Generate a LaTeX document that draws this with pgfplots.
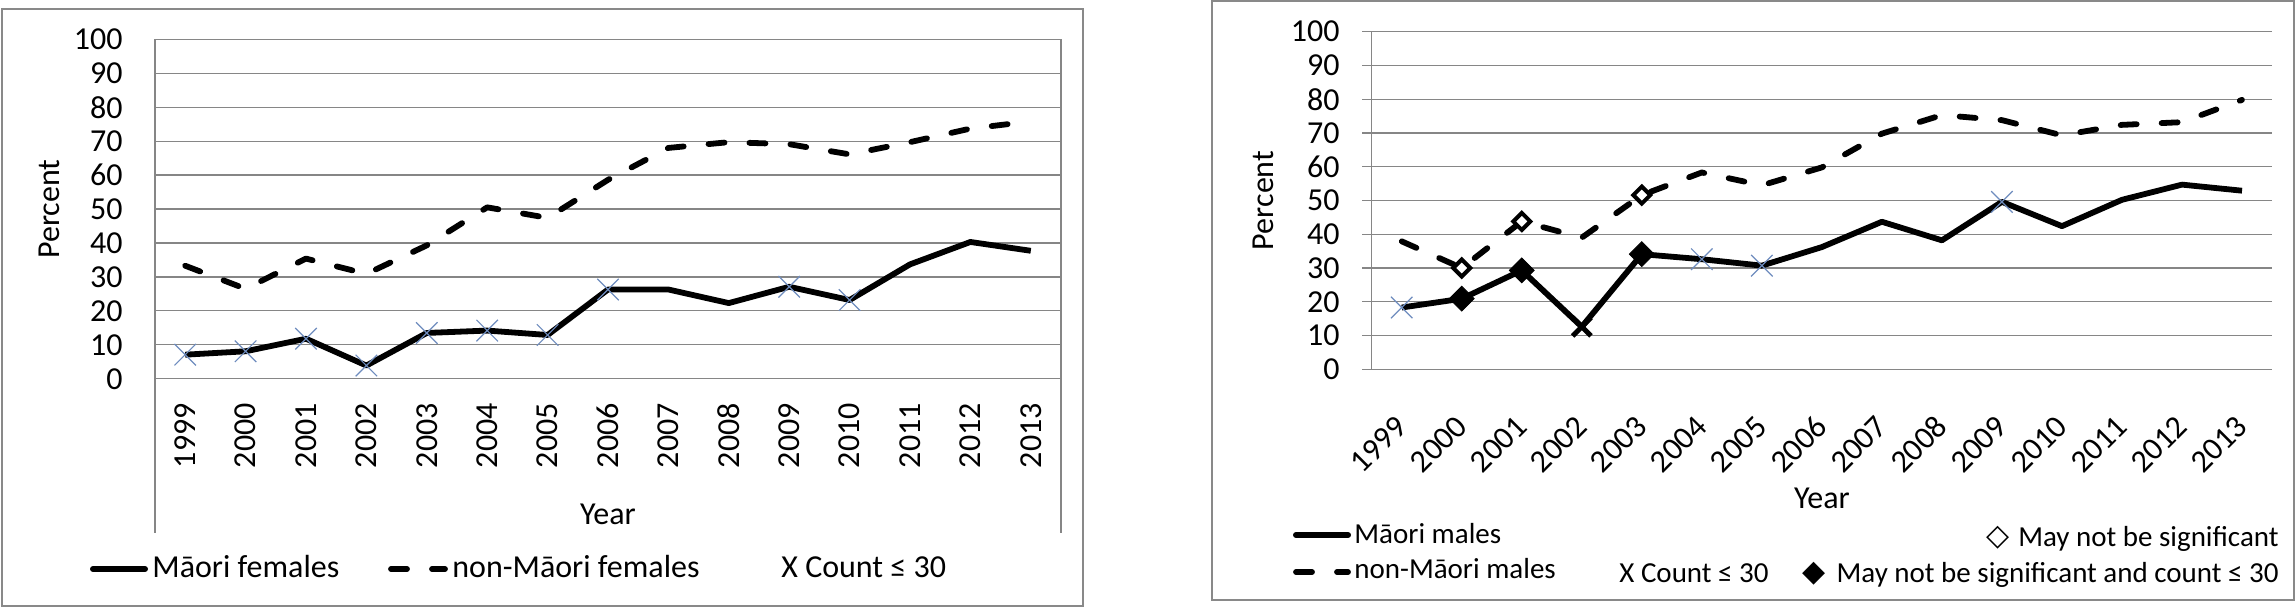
\documentclass[border=0pt]{standalone}
\usepackage{pgfplots}
\usepackage{pgfplotstable}
\pgfplotsset{compat=1.18}
\usepackage{fontspec}
\setmainfont{Carlito}
\newfontfamily\dejavu{DejaVu Sans}
\newcommand\chartfont{\fontsize{16}{19}\selectfont}
\newcommand\legfont{\fontsize{14.5}{17}\selectfont}
\definecolor{gridgray}{RGB}{134,134,134}
\definecolor{framegray}{RGB}{137,137,137}
\definecolor{xblue}{RGB}{110,140,190}

% Left chart: females
\pgfplotstableread{
idx mf nmf
0 7.1 33.3
1 8.1 26.5
2 11.8 35.4
3 3.9 30.9
4 13.5 39.3
5 14.2 50.5
6 12.9 47.4
7 26.3 58.6
8 26.3 68.0
9 22.3 69.7
10 27.1 69.1
11 23.2 66.1
12 33.7 69.7
13 40.3 73.7
14 37.7 75.8
}\femaletable
\pgfplotstableread{
idx v
0 7.1
1 8.1
2 11.8
3 3.9
4 13.5
5 14.2
6 12.9
7 26.3
10 27.1
11 23.2
}\femalecount

% Right chart: males
\pgfplotstableread{
idx mm nmm
0 18.3 37.9
1 20.9 30.0
2 29.3 43.8
3 12.6 39.0
4 34.1 51.6
5 32.6 58.3
6 30.7 54.5
7 36.2 59.8
8 43.7 69.8
9 38.2 75.3
10 49.6 73.8
11 42.4 69.3
12 50.2 72.4
13 54.7 73.2
14 52.9 79.8
}\maletable
\pgfplotstableread{
idx v
0 18.3
5 32.6
6 30.7
10 49.6
}\malecount
\pgfplotstableread{
idx v
3 12.6
}\malebigx
\pgfplotstableread{
idx v
1 20.9
2 29.3
4 34.1
}\malediamond
\pgfplotstableread{
idx v
1 30.0
2 43.8
4 51.6
}\nonmalediamond

\tikzset{
  solidline/.style={black, line width=2.9pt, line join=round},
  dashline/.style={black, line width=2.9pt, line join=round, line cap=round, dash pattern=on 8pt off 12.5pt},
}
\pgfplotsset{
  mystyle/.style={
    scale only axis, anchor=south west,
    xmin=-0.5, xmax=14.5, ymin=0, ymax=100,
    xtick={0,...,14},
    xticklabels={1999,2000,2001,2002,2003,2004,2005,2006,2007,2008,2009,2010,2011,2012,2013},
    ytick={0,10,...,100},
    ymajorgrids, grid style={gridgray, line width=0.6pt},
    tick label style={font=\chartfont, inner sep=0pt},
    /pgf/number format/assume math mode=true,
    clip=false,
  },
}

\begin{document}
\begin{tikzpicture}[font=\chartfont]
\useasboundingbox (0,0) rectangle (1147.5pt,304pt);

% ---------- left chart ----------
\begin{axis}[mystyle,
  at={(77.5pt,114.6pt)}, width=453pt, height=169.75pt,
  axis line style={draw=none}, tick style={draw=none}, major tick length=0pt,
  xticklabel style={rotate=90, anchor=east},
  yticklabel style={anchor=east},
  xticklabel shift=12pt, yticklabel shift=16pt,
  xlabel={Year}, ylabel={Percent},
  every axis x label/.style={at={(axis description cs:0.5,-0.3982)}, anchor=center, font=\chartfont},
  every axis y label/.style={at={(axis description cs:-0.1170,0.5)}, rotate=90, anchor=center, font=\chartfont},
]
\addplot[solidline, mark=none] table[x=idx,y=mf]{\femaletable};
\addplot[dashline, mark=none] table[x=idx,y=nmf]{\femaletable};
\addplot[only marks, mark=x, mark size=7.6pt, mark options={draw=xblue, line width=0.6pt}] table[x=idx,y=v]{\femalecount};
\end{axis}

% ---------- right chart ----------
\begin{axis}[mystyle,
  at={(685.85pt,119.35pt)}, width=450.15pt, height=168.8pt,
  separate axis lines,
  axis y line*=left, axis x line*=bottom,
  x axis line style={draw=none},
  y axis line style={draw=gridgray, line width=0.6pt},
  xtick style={draw=none},
  ytick style={draw=gridgray, line width=0.6pt},
  tick align=outside, major tick length=4.85pt,
  xticklabel style={rotate=45, anchor=east},
  yticklabel style={anchor=east},
  xticklabel shift=21pt, yticklabel shift=11pt,
  xlabel={Year}, ylabel={Percent},
  every axis x label/.style={at={(axis description cs:0.5,-0.3815)}, anchor=center, font=\chartfont},
  every axis y label/.style={at={(axis description cs:-0.1207,0.5)}, rotate=90, anchor=center, font=\chartfont},
]
\addplot[solidline, mark=none] table[x=idx,y=mm]{\maletable};
\addplot[dashline, mark=none] table[x=idx,y=nmm]{\maletable};
\addplot[only marks, mark=x, mark size=7.6pt, mark options={draw=xblue, line width=0.6pt}] table[x=idx,y=v]{\malecount};
\addplot[only marks, mark=x, mark size=6.5pt, mark options={draw=black, line width=2.5pt}] table[x=idx,y=v]{\malebigx};
\addplot[only marks, mark=square*, mark size=4.4pt, mark options={draw=black, fill=black, rotate=45}] table[x=idx,y=v]{\malediamond};
\addplot[only marks, mark=square*, mark size=3pt, mark options={draw=black, fill=white, line width=2pt, rotate=45}] table[x=idx,y=v]{\nonmalediamond};
\end{axis}

% ---------- frames and legends (pixel coordinates) ----------
\begin{scope}[x=0.5pt, y=-0.5pt, yshift=304pt]
\draw[framegray, line width=1pt] (1.5,9) rectangle (1082.5,606);
\draw[framegray, line width=1pt] (1212,1) rectangle (2293.5,600);
\draw[gridgray, line width=0.6pt] (155,39.3) -- (155,533);
\draw[gridgray, line width=0.6pt] (1061,39.3) -- (1061,533);
% left legend
\draw[black, line width=3pt, line cap=round] (93,569) -- (145,569);
\node[anchor=base west, inner sep=0pt] at (152,578) {Māori females};
\draw[dashline] (391,569) -- (445,569);
\node[anchor=base west, inner sep=0pt] at (452,578) {non-Māori females};
\node[anchor=base west, inner sep=0pt] at (781,578) {X Count ≤ 30};
% right legend
\draw[black, line width=3pt, line cap=round] (1296,535) -- (1348,535);
\node[anchor=base west, inner sep=0pt, font=\legfont] at (1354,544) {Māori males};
\draw[dashline] (1296,572) -- (1348,572);
\node[anchor=base west, inner sep=0pt, font=\legfont] at (1354,579) {non-Māori males};
\node[anchor=base east, inner sep=0pt] at (2010,546) {\dejavu\fontsize{15}{17}\selectfont ◇};
\node[anchor=base east, inner sep=0pt, font=\legfont] at (2279,547) {May not be significant};
\node[anchor=base west, inner sep=0pt, font=\legfont] at (1619,583) {X Count ≤ 30};
\node[anchor=base east, inner sep=0pt] at (1826,582) {\dejavu\fontsize{15}{17}\selectfont ◆};
\node[anchor=base east, inner sep=0pt, font=\legfont] at (2279,583) {May not be significant and count ≤ 30};
\end{scope}
\end{tikzpicture}
\end{document}
